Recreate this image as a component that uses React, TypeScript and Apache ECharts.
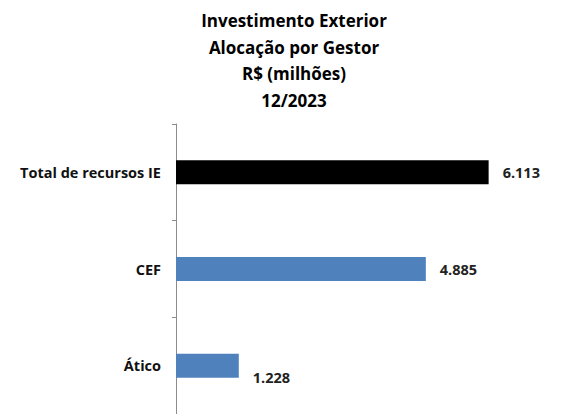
import React, { useEffect, useRef } from "react";
import * as echarts from "echarts";

const categories: string[] = ["Total de recursos IE", "CEF", "Ático"];
const values: number[] = [6113, 4885, 1228];
const barColors: string[] = ["#000000", "#4F81BD", "#4F81BD"];
const titleLines: string[] = ["Investimento Exterior", "Alocação por Gestor", "R$ (milhões)", "12/2023"];

const fmt = (v: number) => String(Math.round(v)).replace(/\B(?=(\d{3})+(?!\d))/g, ".");

export default function App() {
  const ref = useRef<HTMLDivElement>(null);
  useEffect(() => {
    document.body.style.margin = "0";
    const chart = echarts.init(ref.current!, undefined, { renderer: "svg" });
    const font = "Open Sans";
    chart.setOption({
      animation: false,
      backgroundColor: "#ffffff",
      title: {
        text: titleLines.join("\n"),
        left: 294,
        top: 0,
        padding: [7, 0, 0, 0],
        textAlign: "center",
        textStyle: {
          fontFamily: font,
          fontWeight: "bold",
          fontSize: 17,
          lineHeight: 26.7,
          color: "#000",
        },
      },
      grid: { left: 176, right: 27, top: 124, bottom: -6, containLabel: false },
      xAxis: {
        type: "value",
        min: 0,
        max: 7000,
        show: false,
      },
      yAxis: {
        type: "category",
        data: categories,
        inverse: true,
        axisLine: { show: true, lineStyle: { color: "#8c8c8c", width: 1 } },
        axisTick: { show: true, length: 4, lineStyle: { color: "#8c8c8c" } },
        axisLabel: {
          margin: 15,
          fontFamily: font,
          fontWeight: "bold",
          fontSize: 14.5,
          color: "#111",
        },
        splitLine: { show: false },
      },
      series: [
        {
          type: "bar",
          barWidth: 24,
          data: values.map((v, i) => ({
            value: v,
            itemStyle: { color: barColors[i] },
            label: i === 2 ? { offset: [0, 12] } : undefined,
          })),
          label: {
            show: true,
            position: "right",
            distance: 14,
            formatter: (p: any) => fmt(p.value),
            fontFamily: font,
            fontWeight: "bold",
            fontSize: 14.5,
            color: "#222",
          },
        },
      ],
    });
    return () => chart.dispose();
  }, []);
  return <div ref={ref} style={{ width: 561, height: 414 }} />;
}
